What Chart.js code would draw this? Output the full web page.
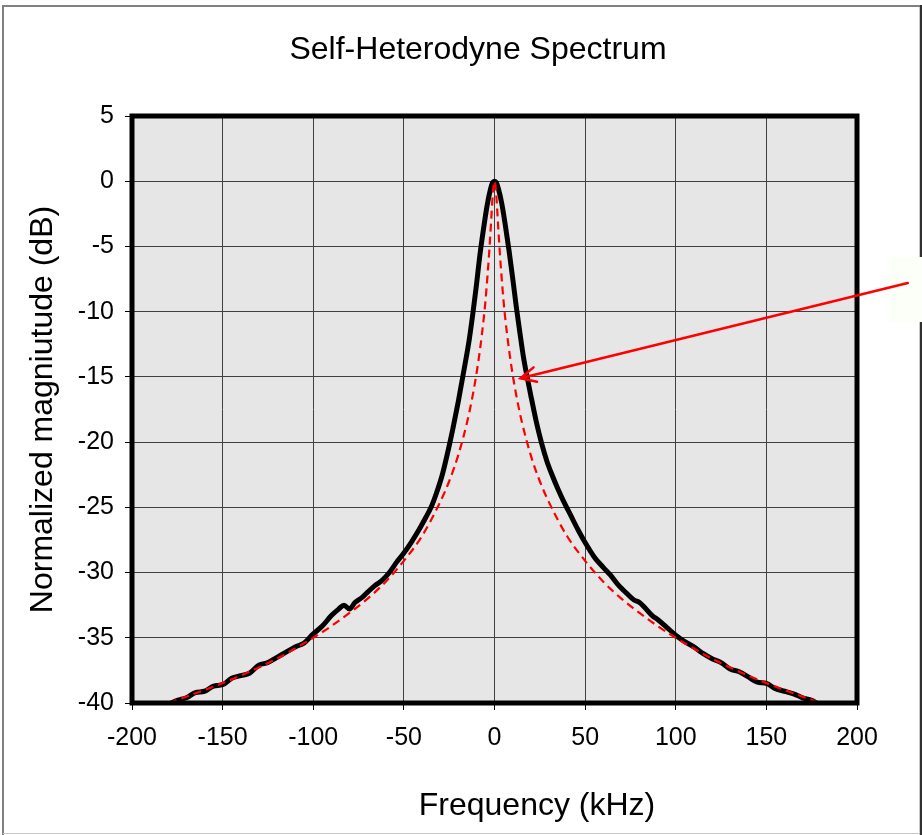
<!DOCTYPE html>
<html lang="en">
<head>
    <meta charset="UTF-8">
    <title>Self-Heterodyne Spectrum</title>
    <style>
        body {
            margin: 0;
            padding: 0;
            background-color: #fff;
        }

        #spectrum {
            display: block;
        }
    </style>
</head>
<body>
<canvas id="spectrum" width="922" height="835"></canvas>
<script src="https://cdn.jsdelivr.net/npm/chart.js"></script>
<script>
    // Measured self-heterodyne beat spectrum (kHz / dB)
    const measuredFreq = [
        -200, -190, -180, -175, -170, -165, -160, -155, -150, -145, -140, -135, -130, -125, -120, -115, -110, -105,
        -100, -95, -90, -86, -83, -80, -77, -73, -70, -66, -62, -58, -54, -50, -46, -42, -38, -35, -32, -29, -26,
        -23, -20, -17, -14, -12, -10, -8, -6, -4, -2, -1, 0, 1, 2, 4, 6, 8, 10, 12, 14, 16, 18, 20, 23, 26, 29, 32,
        35, 38, 42, 46, 50, 55, 60, 64, 68, 73, 77, 80, 83, 87, 90, 95, 100, 105, 110, 115, 120, 125, 130, 135, 140,
        145, 150, 155, 160, 165, 170, 175, 180, 190, 200
    ];
    const measuredDb = [
        -41.3, -40.7, -40.1, -39.8, -39.6, -39.2, -39.1, -38.7, -38.6, -38.1, -37.9, -37.7, -37.1, -36.9, -36.5, -36.1, -35.7, -35.4,
        -34.7, -34.1, -33.3, -32.8, -32.5, -32.8, -32.3, -31.9, -31.5, -31.0, -30.6, -30.0, -29.2, -28.5, -27.7, -26.8, -25.8, -25.0, -23.9, -22.6, -20.9,
        -19.0, -16.9, -14.6, -12.2, -10.2, -8.0, -5.6, -3.6, -1.8, -0.5, -0.1, 0, -0.1, -0.5, -1.7, -3.4, -5.3, -7.4, -9.6, -11.6, -13.5, -15.0, -16.4, -18.4, -20.1, -21.5, -22.6,
        -23.6, -24.5, -25.6, -26.7, -27.7, -28.8, -29.6, -30.2, -30.9, -31.6, -32.1, -32.3, -32.7, -33.3, -33.6, -34.2, -34.8, -35.3, -35.7, -36.2, -36.6, -36.9, -37.4, -37.6, -38.0,
        -38.4, -38.5, -38.9, -39.1, -39.3, -39.6, -39.8, -40.2, -40.7, -41.3
    ];

    // Lorentzian fit
    const fitFreq = [
        -200, -180, -160, -140, -120, -100, -90, -80, -70, -60, -50, -40, -30, -25, -20, -15, -12, -10, -8, -6, -5, -4, -3,
        -2, -1.5, -1, -0.5, 0, 0.5, 1, 1.5, 2, 3, 4, 5, 6, 8, 10, 12, 15, 20, 25, 30, 40, 50, 60, 70, 80, 90, 100, 120,
        140, 160, 180, 200
    ];
    const fitDb = [
        -40.9, -40.0, -39.0, -37.9, -36.6, -35.0, -34.1, -33.1, -32.0, -30.7, -29.1, -27.2, -24.6, -23.0, -21.0, -18.4, -16.4, -14.8, -12.9, -10.6, -9.2, -7.5, -5.6,
        -3.4, -2.2, -1.1, -0.3, 0, -0.3, -1.1, -2.2, -3.4, -5.6, -7.5, -9.2, -10.6, -12.9, -14.8, -16.4, -18.4, -21.0, -23.0, -24.6, -27.2, -29.1, -30.7, -32.0, -33.1, -34.1, -35.0, -36.6,
        -37.9, -39.0, -40.0, -40.9
    ];

    // Callout arrow, tail and head in (kHz, dB)
    const arrowTail = [228, -7.8];
    const arrowHead = [14.3, -15.1];

    const font = 'Arial, "Liberation Sans", sans-serif';
    const toPoints = (xs, ys) => xs.map((x, i) => ({x: x, y: ys[i]}));

    // Grey plot area, page frame, callout box, arrow and the x axis title
    const plotDecor = {
        id: 'plotDecor',
        beforeDraw(chart) {
            const {ctx, chartArea: a} = chart;
            ctx.save();
            ctx.fillStyle = '#e6e6e6';
            ctx.fillRect(a.left, a.top, a.right - a.left, a.bottom - a.top);

            ctx.strokeStyle = '#808080';
            ctx.lineWidth = 2;
            ctx.beginPath();
            ctx.moveTo(2, 6);
            ctx.lineTo(921, 6);
            ctx.moveTo(3, 5);
            ctx.lineTo(3, 835);
            ctx.stroke();
            ctx.strokeStyle = '#c8c8c8';
            ctx.lineWidth = 1;
            ctx.beginPath();
            ctx.moveTo(3, 833.5);
            ctx.lineTo(921, 833.5);
            ctx.moveTo(919.5, 7);
            ctx.lineTo(919.5, 835);
            ctx.stroke();
            ctx.strokeStyle = '#303030';
            ctx.lineWidth = 2;
            ctx.beginPath();
            ctx.moveTo(921, 5);
            ctx.lineTo(921, 835);
            ctx.stroke();
            ctx.restore();
        },
        afterDraw(chart) {
            const {ctx, chartArea: a, scales} = chart;
            ctx.save();
            // thick plot border
            ctx.strokeStyle = '#000';
            ctx.lineWidth = 5;
            ctx.strokeRect(a.left, a.top, a.right - a.left, a.bottom - a.top);

            // axis title sits right of the plot centre
            ctx.fillStyle = '#000';
            ctx.font = '32px ' + font;
            ctx.textAlign = 'center';
            ctx.textBaseline = 'middle';
            ctx.fillText('Frequency (kHz)', 537, 806);

            // text box partly off the page
            ctx.fillStyle = '#fbfff8';
            ctx.fillRect(889, 257, 33, 65);

            // arrow pointing at the fit
            const x1 = scales.x.getPixelForValue(arrowTail[0]);
            const y1 = scales.y.getPixelForValue(arrowTail[1]);
            const x2 = scales.x.getPixelForValue(arrowHead[0]);
            const y2 = scales.y.getPixelForValue(arrowHead[1]);
            const ang = Math.atan2(y1 - y2, x1 - x2);
            ctx.strokeStyle = '#ff0000';
            ctx.lineWidth = 2.5;
            ctx.lineCap = 'round';
            ctx.beginPath();
            ctx.moveTo(x1, y1);
            ctx.lineTo(x2, y2);
            ctx.moveTo(x2 + 17 * Math.cos(ang + 0.45), y2 + 17 * Math.sin(ang + 0.45));
            ctx.lineTo(x2, y2);
            ctx.lineTo(x2 + 17 * Math.cos(ang - 0.45), y2 + 17 * Math.sin(ang - 0.45));
            ctx.stroke();
            ctx.restore();
        }
    };

    new Chart(document.getElementById('spectrum'), {
        type: 'line',
        data: {
            datasets: [{
                label: 'Measured',
                data: toPoints(measuredFreq, measuredDb),
                borderColor: '#000',
                borderWidth: 5,
                pointRadius: 0,
                cubicInterpolationMode: 'monotone',
                order: 1
            }, {
                label: 'Lorentzian fit',
                data: toPoints(fitFreq, fitDb),
                borderColor: '#ff0000',
                borderWidth: 2.2,
                borderDash: [8, 5],
                pointRadius: 0,
                cubicInterpolationMode: 'monotone',
                order: 0
            }]
        },
        options: {
            responsive: false,
            animation: false,
            layout: {
                padding: {left: 34, right: 0, top: 0, bottom: 0}
            },
            plugins: {
                legend: {display: false},
                tooltip: {enabled: false},
                title: {
                    display: true,
                    text: 'Self-Heterodyne Spectrum',
                    color: '#000',
                    font: {family: font, size: 32, weight: 'normal'},
                    padding: {top: 31, bottom: 46.6}
                }
            },
            scales: {
                x: {
                    type: 'linear',
                    min: -200,
                    max: 200,
                    afterFit(scale) {
                        scale.height = 132;
                    },
                    border: {display: false},
                    grid: {color: '#404040', lineWidth: 1, tickColor: '#000', tickLength: 7},
                    ticks: {
                        stepSize: 50,
                        color: '#000',
                        padding: 13,
                        maxRotation: 0,
                        font: {family: font, size: 25}
                    }
                },
                y: {
                    min: -40,
                    max: 5,
                    afterFit(scale) {
                        scale.width = 98;
                    },
                    border: {display: false},
                    grid: {color: '#404040', lineWidth: 1, tickColor: '#000', tickLength: 7},
                    ticks: {
                        stepSize: 5,
                        color: '#000',
                        padding: 11,
                        font: {family: font, size: 25}
                    },
                    title: {
                        display: true,
                        text: 'Normalized magniutude (dB)',
                        color: '#000',
                        font: {family: font, size: 32},
                        padding: {top: -10, bottom: 0}
                    }
                },
                // empty right-hand margin
                yRight: {
                    position: 'right',
                    display: true,
                    afterFit(scale) {
                        scale.width = 65;
                    },
                    border: {display: false},
                    grid: {display: false},
                    ticks: {display: false}
                }
            }
        },
        plugins: [plotDecor]
    });
</script>
</body>
</html>
